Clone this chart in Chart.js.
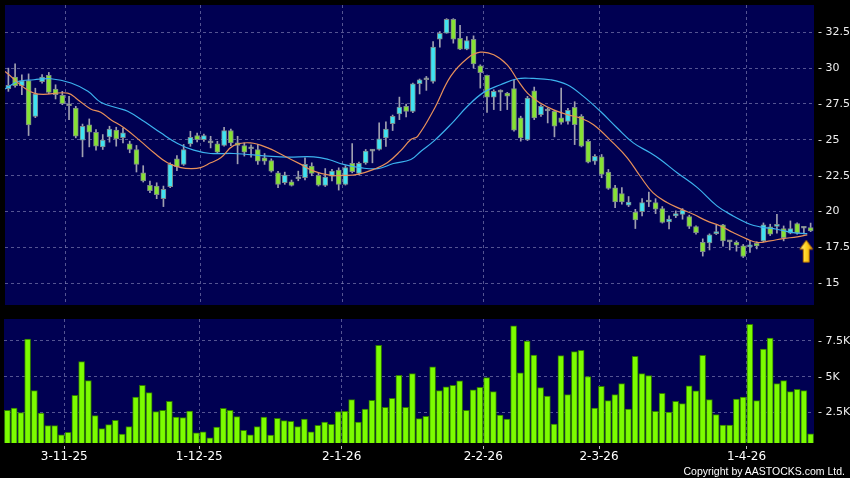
<!DOCTYPE html>
<html>
<head>
<meta charset="utf-8">
<script src="https://cdn.jsdelivr.net/npm/chart.js@4.4.1/dist/chart.umd.min.js"></script>
<style>
  body { margin: 0; background: #000; width: 850px; height: 478px; overflow: hidden; position: relative; }
  #priceChart { position: absolute; left: 0; top: 0; }
  #volChart { position: absolute; left: 0; top: 310px; }
  #copy { position: absolute; right: 5px; top: 465px; color: #fff; font: 10.5px 'Liberation Sans', Arial, sans-serif; }
</style>
</head>
<body>
<canvas id="priceChart" width="850" height="310"></canvas>
<canvas id="volChart" width="850" height="168"></canvas>
<div id="copy">Copyright by AASTOCKS.com Ltd.</div>
<script>
// daily OHLC
const opens = [28.56, 29.38, 28.77, 29.14, 26.64, 29.05, 29.49, 28.54, 28.1, 27.38,
  27.22, 24.98, 26.04, 25.53, 24.51, 25.21, 25.69, 25.16, 24.72, 24.33,
  22.71, 21.83, 21.78, 20.9, 21.74, 23.68, 23.29, 24.72, 25.3, 25.02,
  24.79, 24.72, 24.61, 25.65, 24.79, 24.61, 24.38, 24.33, 23.75, 23.56,
  22.71, 22.01, 22.08, 22.29, 22.36, 23.17, 22.52, 21.83, 22.47, 22.89,
  21.9, 23.36, 22.66, 23.4, 24.21, 24.33, 25.14, 26.13, 26.8, 27.33,
  26.98, 28.91, 29.19, 29.07, 32.01, 32.43, 33.4, 32.08, 31.32, 32.01,
  30.16, 29.49, 27.98, 28.33, 28.26, 28.58, 26.53, 25.0, 28.42, 26.76,
  27.01, 26.99, 26.53, 26.29, 27.27, 26.64, 24.9, 23.51, 23.82, 22.75,
  21.66, 21.25, 20.44, 19.97, 20.0, 20.67, 20.63, 20.21, 19.28, 19.7,
  19.81, 19.65, 18.96, 17.85, 17.81, 18.47, 19.07, 17.89, 17.85, 17.61,
  17.54, 17.78, 17.96, 18.93, 18.96, 18.82, 18.49, 19.17, 18.84, 18.89];
const highs = [30.0, 30.3, 29.54, 29.6, 28.6, 29.55, 29.7, 28.84, 28.38, 28.03,
  27.34, 26.1, 26.46, 25.72, 25.37, 25.95, 25.88, 25.83, 24.91, 24.61,
  23.2, 22.13, 22.01, 21.78, 23.4, 23.9, 24.68, 25.6, 25.48, 25.4,
  25.25, 24.9, 25.88, 25.76, 25.25, 24.79, 24.65, 24.68, 24.05, 23.68,
  22.8, 22.75, 22.2, 22.82, 23.75, 23.4, 22.7, 23.0, 22.94, 23.05,
  23.2, 24.74, 23.45, 24.33, 24.33, 26.18, 26.25, 26.73, 27.98, 27.5,
  28.96, 29.24, 29.42, 31.85, 32.55, 33.45, 33.45, 32.99, 32.2, 32.25,
  30.23, 29.51, 28.49, 28.49, 28.31, 29.19, 26.65, 28.03, 28.68, 27.45,
  27.22, 27.06, 28.61, 27.2, 27.66, 26.76, 24.98, 23.98, 23.98, 22.94,
  21.83, 21.67, 21.05, 20.16, 20.9, 21.36, 20.9, 20.35, 19.7, 20.05,
  20.21, 19.75, 19.0, 18.1, 18.45, 19.05, 19.12, 17.96, 17.96, 17.71,
  17.96, 17.89, 19.21, 19.12, 19.81, 19.0, 19.35, 19.22, 18.98, 19.2];
const lows = [28.38, 28.68, 28.15, 25.3, 26.55, 28.95, 28.22, 27.85, 27.45, 26.41,
  25.14, 23.82, 24.51, 24.28, 24.33, 24.84, 24.56, 24.79, 24.1, 22.76,
  22.06, 21.32, 20.9, 20.35, 21.67, 22.85, 23.22, 24.55, 24.86, 24.9,
  24.44, 24.05, 24.56, 24.6, 23.33, 23.87, 23.8, 23.29, 23.29, 22.75,
  21.67, 21.9, 21.78, 22.15, 22.2, 22.5, 21.78, 21.75, 22.13, 21.5,
  21.85, 22.7, 22.55, 23.3, 23.4, 24.28, 24.55, 25.65, 26.41, 26.6,
  26.9, 28.2, 28.45, 28.96, 31.46, 32.43, 31.74, 31.28, 31.28, 30.0,
  28.61, 26.92, 27.11, 27.04, 27.11, 25.6, 24.91, 24.95, 26.41, 26.64,
  26.18, 25.21, 26.09, 26.09, 24.67, 24.51, 23.4, 23.29, 22.36, 21.55,
  20.28, 20.51, 20.35, 18.82, 19.7, 20.35, 19.86, 19.2, 18.8, 19.58,
  19.47, 18.82, 18.43, 16.9, 17.33, 18.4, 17.59, 17.33, 17.24, 16.8,
  17.15, 17.4, 17.89, 18.33, 18.5, 17.96, 18.45, 18.43, 18.45, 18.6];
const closes = [28.8, 28.77, 29.12, 26.04, 28.19, 29.38, 28.31, 28.15, 27.52, 27.38,
  25.25, 25.95, 25.53, 24.56, 24.98, 25.76, 25.07, 25.49, 24.33, 23.29,
  22.13, 21.46, 21.18, 21.55, 23.29, 23.13, 24.33, 25.18, 25.02, 25.3,
  24.79, 24.14, 25.65, 24.79, 24.61, 24.14, 24.38, 23.52, 23.52, 22.82,
  21.9, 22.54, 21.83, 22.29, 23.29, 22.66, 21.85, 22.4, 22.82, 21.9,
  23.06, 22.78, 23.36, 24.21, 24.21, 25.07, 25.76, 26.64, 27.29, 26.99,
  28.9, 29.19, 29.19, 31.46, 32.43, 33.4, 32.01, 31.32, 31.92, 30.3,
  29.69, 27.98, 28.38, 28.33, 28.05, 25.67, 25.14, 27.92, 26.53, 27.33,
  27.01, 25.95, 26.22, 27.06, 26.06, 24.56, 23.44, 23.86, 22.59, 21.62,
  20.67, 20.67, 20.67, 19.42, 20.63, 20.67, 20.17, 19.24, 19.47, 19.86,
  20.11, 18.96, 18.54, 17.2, 18.38, 18.61, 17.96, 17.89, 17.66, 16.87,
  17.68, 17.61, 19.07, 18.42, 19.12, 18.19, 18.82, 18.49, 18.84, 18.66];
const volumes = [2640, 2800, 2480, 7640, 4020, 2450, 1570, 1570, 930, 1100,
  3690, 6050, 4720, 2270, 1360, 1640, 1940, 980, 1500, 3570,
  4390, 3880, 2550, 2640, 3270, 2170, 2130, 2590, 1070, 1140,
  720, 1470, 2780, 2640, 2200, 1240, 930, 1500, 2170, 910,
  2080, 1920, 1870, 1500, 2030, 1140, 1590, 1820, 1660, 2550,
  2570, 3390, 1820, 2730, 3340, 7200, 2850, 3480, 5090, 2850,
  5210, 2060, 2220, 5680, 4020, 4280, 4390, 4700, 2640, 4070,
  4250, 4930, 3950, 2310, 2030, 8570, 5260, 7500, 6520, 4230,
  3640, 1680, 6470, 3740, 6750, 6850, 5000, 2800, 4320, 3320,
  3740, 4510, 2730, 6430, 5210, 5070, 2570, 3830, 2520, 3270,
  3110, 4350, 4000, 6500, 3390, 2340, 1610, 1610, 3430, 3570,
  8670, 3320, 6940, 7710, 4510, 4720, 3950, 4110, 4020, 1000];

// moving averages (x = day index)
const maShortX = [-0.5, 3.8, 8.8, 10.3, 12.2, 13.7, 15.2, 17.2, 19.6, 21.6, 23.6, 25.6, 27.1, 28.5, 30.0,
  31.5, 33.4, 35.9, 38.5, 40.8, 43.4, 45.3, 47.8, 49.7, 51.8, 54.2, 56.2, 58.2, 59.7, 60.7,
  63.1, 65.6, 68.1, 70.0, 72.0, 74.0, 75.5, 77.0, 78.9, 80.8, 82.9, 84.8, 86.8, 89.7, 91.8,
  93.7, 95.6, 97.7, 99.6, 101.6, 103.6, 105.6, 107.5, 109.6, 111.1, 113.0, 114.9, 117.0, 118.5];
const maShort = [29.77, 28.26, 28.26, 27.8, 27.15, 26.92, 26.41, 25.83, 24.91, 24.1, 23.4, 23.06, 22.99, 23.06, 23.4,
  23.75, 24.6, 24.79, 24.44, 23.91, 23.29, 22.82, 22.52, 22.52, 22.59, 22.94, 23.4, 24.25, 25.02, 25.25,
  27.1, 29.42, 30.69, 31.11, 30.93, 30.23, 29.19, 28.26, 27.57, 27.11, 26.76, 26.53, 26.06, 24.79, 23.75,
  22.48, 21.32, 20.63, 20.21, 19.81, 19.35, 19.0, 18.54, 18.08, 17.85, 17.96, 18.12, 18.24, 18.38];
const maLongX = [-0.5, 1.4, 3.8, 6.3, 9.3, 11.8, 13.7, 16.2, 17.7, 20.1, 22.6, 25.1, 27.5, 30.0,
  33.4, 38.5, 41.4, 45.3, 47.5, 49.7, 52.2, 54.8, 57.1, 59.7, 61.2, 63.1, 65.6, 68.1, 70.5,
  73.0, 75.5, 77.9, 80.4, 82.9, 85.3, 87.8, 90.3, 92.7, 95.2, 96.7, 99.2, 102.2, 105.1,
  107.5, 110.0, 111.5, 114.0, 116.4, 118.5];
const maLong = [28.54, 29.07, 29.19, 29.26, 28.96, 28.38, 27.62, 27.22, 26.99, 26.3, 25.49, 24.75, 24.28, 24.05,
  24.05, 23.87, 23.8, 23.82, 23.63, 23.29, 23.06, 22.99, 23.35, 23.63, 24.21, 24.91, 26.06, 27.34, 28.31,
  28.84, 29.26, 29.28, 29.19, 28.84, 28.03, 26.99, 25.83, 24.79, 24.1, 23.63, 22.71, 21.67, 20.4,
  19.7, 19.12, 18.94, 18.77, 18.54, 18.47];

// axis ticks
const dateTicks = [8.43, 28.43, 49.53, 70.5, 87.65, 109.5];
const dateLabels = ['3-11-25', '1-12-25', '2-1-26', '2-2-26', '2-3-26', '1-4-26'];
const priceTicks = [15, 17.5, 20, 22.5, 25, 27.5, 30, 32.5];
const volTicks = [2500, 5000, 7500];
const arrowAt = { x: 118.35, y: 17.24 };

const NAVY = '#000052';
const GRID = 'rgba(140,140,190,0.6)';
const UP = '#3fe3f2';
const DOWN = '#86e234';
const DOJI = '#a8a8b0';

const days = opens.map((_, i) => i);

function bodyColor(i) {
    if (closes[i] > opens[i]) return UP;
    if (closes[i] < opens[i]) return DOWN;
    return DOJI;
}

const navyBg = {
    id: 'navyBg',
    beforeDraw(chart) {
        const { ctx, chartArea: a } = chart;
        ctx.save();
        ctx.fillStyle = '#000';
        ctx.fillRect(0, 0, chart.width, chart.height);
        ctx.fillStyle = NAVY;
        ctx.fillRect(a.left, a.top, a.right - a.left, a.bottom - a.top);
        ctx.restore();
    }
};

function makeArrow() {
    const c = document.createElement('canvas');
    c.width = 15;
    c.height = 24;
    const g = c.getContext('2d');
    const grad = g.createLinearGradient(0, 0, 15, 0);
    grad.addColorStop(0, '#fff7a0');
    grad.addColorStop(0.5, '#ffd21f');
    grad.addColorStop(1, '#e29a00');
    g.beginPath();
    g.moveTo(7.5, 1);
    g.lineTo(14, 10);
    g.lineTo(10.5, 10);
    g.lineTo(10.5, 23);
    g.lineTo(4.5, 23);
    g.lineTo(4.5, 10);
    g.lineTo(1, 10);
    g.closePath();
    g.fillStyle = grad;
    g.fill();
    g.strokeStyle = '#b06800';
    g.lineWidth = 1;
    g.stroke();
    return c;
}

// fixed axis box, no extra label padding eating into the plot
function fixWidth(s) {
    s.width = 36;
    s.paddingTop = 0;
    s.paddingBottom = 0;
}

const tickFontY = { family: 'DejaVu Sans', size: 11 };
const tickFontX = { family: 'DejaVu Sans', size: 12 };

new Chart(document.getElementById('priceChart'), {
    data: {
        datasets: [
            {
                type: 'line',
                data: maShortX.map((x, k) => ({ x: x, y: maShort[k] })),
                borderColor: '#e8905a',
                borderWidth: 1.2,
                pointRadius: 0,
                tension: 0.4,
                order: 1
            },
            {
                type: 'line',
                data: maLongX.map((x, k) => ({ x: x, y: maLong[k] })),
                borderColor: '#3cb2ee',
                borderWidth: 1.2,
                pointRadius: 0,
                tension: 0.4,
                order: 1
            },
            {
                type: 'bar',
                data: days.map(i => ({ x: i, y: [lows[i], highs[i]] })),
                backgroundColor: '#a0a0b0',
                barThickness: 1,
                grouped: false,
                order: 3
            },
            {
                type: 'bar',
                data: days.map(i => ({ x: i, y: [opens[i], closes[i]] })),
                backgroundColor: days.map(bodyColor),
                borderColor: '#7d8a8a',
                borderWidth: 1,
                borderSkipped: false,
                barThickness: 5,
                minBarLength: 2,
                grouped: false,
                order: 2
            },
            {
                type: 'scatter',
                data: [arrowAt],
                pointStyle: makeArrow(),
                order: 0
            }
        ]
    },
    options: {
        responsive: false,
        animation: false,
        layout: { padding: { left: 4, top: 5, right: 0, bottom: 0 } },
        plugins: { legend: { display: false }, tooltip: { enabled: false } },
        scales: {
            x: {
                type: 'linear',
                offset: false,
                min: -0.5,
                max: 119.5,
                afterBuildTicks: s => { s.ticks = dateTicks.map(v => ({ value: v })); },
                afterFit: s => { s.height = 4; s.paddingLeft = 0; s.paddingRight = 0; },
                ticks: { display: false },
                grid: { color: GRID, drawTicks: false, offset: false },
                border: { display: false, dash: [3, 3] }
            },
            y: {
                position: 'right',
                min: 13.49,
                max: 34.4,
                afterBuildTicks: s => { s.ticks = priceTicks.map(v => ({ value: v })); },
                afterFit: fixWidth,
                ticks: { color: '#eee', font: tickFontY, padding: 4, callback: v => '- ' + v },
                grid: { color: GRID, drawTicks: false },
                border: { display: false, dash: [3, 3] }
            }
        }
    },
    plugins: [navyBg]
});

new Chart(document.getElementById('volChart'), {
    type: 'bar',
    data: {
        datasets: [{
            data: days.map(i => ({ x: i, y: volumes[i] })),
            backgroundColor: '#7cfc00',
            borderColor: '#2f7a00',
            borderWidth: 1,
            borderSkipped: false,
            barThickness: 6
        }]
    },
    options: {
        responsive: false,
        animation: false,
        layout: { padding: { left: 4, top: 9, right: 0, bottom: 0 } },
        plugins: { legend: { display: false }, tooltip: { enabled: false } },
        scales: {
            x: {
                type: 'linear',
                offset: false,
                min: -0.5,
                max: 119.5,
                afterBuildTicks: s => { s.ticks = dateTicks.map(v => ({ value: v })); },
                afterFit: s => { s.height = 35; s.paddingLeft = 0; s.paddingRight = 0; },
                ticks: {
                    color: '#fff', font: tickFontX, padding: 1,
                    autoSkip: false, maxRotation: 0,
                    callback: (v, i) => dateLabels[i]
                },
                grid: { color: GRID, offset: false, tickLength: 6, tickColor: '#bbb', tickBorderDash: [0, 3, 3, 0] },
                border: { display: false, dash: [3, 3] }
            },
            y: {
                position: 'right',
                min: 350,
                max: 9040,
                afterBuildTicks: s => { s.ticks = volTicks.map(v => ({ value: v })); },
                afterFit: fixWidth,
                ticks: { color: '#eee', font: tickFontY, padding: 4, callback: v => '- ' + (v / 1000) + 'K' },
                grid: { color: GRID, drawTicks: false },
                border: { display: false, dash: [3, 3] }
            }
        }
    },
    plugins: [navyBg]
});
</script>
</body>
</html>
